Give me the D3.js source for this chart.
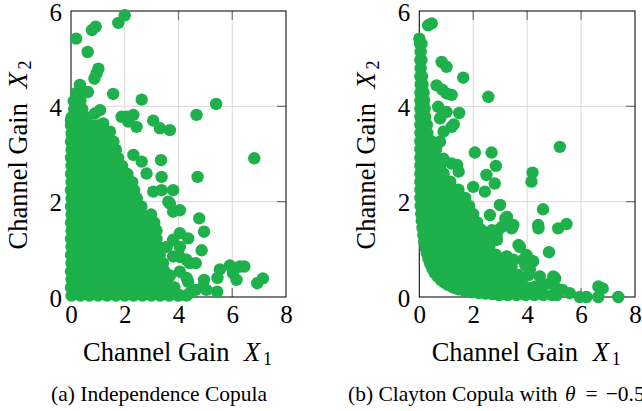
<!DOCTYPE html>
<html>
<head>
<meta charset="utf-8">
<script src="https://cdn.jsdelivr.net/npm/d3@7"></script>
<style>
  html, body { margin: 0; padding: 0; background: #fff; }
  svg { display: block; }
</style>
</head>
<body>
<svg id="fig" width="642" height="411"></svg>
<script>
// ---- axes ----
const xTicks = [0, 2, 4, 6, 8];
const yTicks = [0, 2, 4, 6];
const axisTitleText = "Channel Gain";
const captionA = ["(a) Independence Copula"];
const captionB = ["(b) Clayton Copula with ", "θ", "=", "−0.5"];

// ---- (a) independence copula: dense core, one row of samples per level [X2, [X1 ...]] ----
const indepRows = [
  [0.03, [0.02,0.35,0.68,1.01,1.34,1.67,2.00,2.33,2.66,2.99,3.32,3.65,3.98,4.30]],
  [0.20, [0.00,0.18,0.51,0.84,1.17,1.50,1.83,2.16,2.49,2.82,3.15,3.48,3.85]],
  [0.37, [0.02,0.35,0.68,1.01,1.34,1.67,2.00,2.33,2.66,2.99,3.32,3.60]],
  [0.54, [0.00,0.18,0.51,0.84,1.17,1.50,1.83,2.16,2.49,2.82,3.15,3.48]],
  [0.71, [0.02,0.35,0.68,1.01,1.34,1.67,2.00,2.33,2.66,2.99,3.32,3.42]],
  [0.88, [0.00,0.18,0.51,0.84,1.17,1.50,1.83,2.16,2.49,2.82,3.15,3.30]],
  [1.05, [0.02,0.35,0.68,1.01,1.34,1.67,2.00,2.33,2.66,2.99,3.28]],
  [1.22, [0.00,0.18,0.51,0.84,1.17,1.50,1.83,2.16,2.49,2.82,3.18]],
  [1.39, [0.02,0.35,0.68,1.01,1.34,1.67,2.00,2.33,2.66,2.99,3.18]],
  [1.56, [0.00,0.18,0.51,0.84,1.17,1.50,1.83,2.16,2.49,2.82,3.10]],
  [1.73, [0.02,0.35,0.68,1.01,1.34,1.67,2.00,2.33,2.66,2.98]],
  [1.90, [0.00,0.18,0.51,0.84,1.17,1.50,1.83,2.16,2.49,2.62]],
  [2.07, [0.02,0.35,0.68,1.01,1.34,1.67,2.00,2.33,2.45]],
  [2.24, [0.00,0.18,0.51,0.84,1.17,1.50,1.83,2.16,2.35]],
  [2.41, [0.02,0.35,0.68,1.01,1.34,1.67,2.00,2.28]],
  [2.58, [0.00,0.18,0.51,0.84,1.17,1.50,1.83,2.10]],
  [2.75, [0.02,0.35,0.68,1.01,1.34,1.67,1.90]],
  [2.92, [0.00,0.18,0.51,0.84,1.17,1.50,1.75]],
  [3.09, [0.02,0.35,0.68,1.01,1.34,1.67]],
  [3.26, [0.00,0.18,0.51,0.84,1.17,1.50,1.58]],
  [3.43, [0.02,0.35,0.68,1.01,1.34]],
  [3.60, [0.00,0.18,0.51,0.84,1.00]],
  [3.77, [0.02,0.30,0.58]],
  [3.94, [0.12,0.42]],
  [4.11, [0.10,0.35]],
  [4.28, [0.20,0.48]],
  [4.45, [0.33]]
];

// ---- (a) sparse samples [X1, X2] ----
const indepScatter = [
  [0.19,5.42],[0.78,5.60],[0.92,5.67],[0.62,5.14],[1.76,5.75],[2.00,5.91],
  [1.02,4.79],[0.95,4.69],[0.87,4.58],[0.52,4.30],[0.63,4.30],[1.57,4.26],[2.63,4.14],
  [1.08,3.92],[0.89,3.85],[5.40,4.05],[4.67,3.82],[1.88,3.78],[2.07,3.78],
  [2.32,3.82],[2.13,3.68],[2.44,3.57],[3.06,3.70],[3.31,3.54],[3.68,3.50],
  [1.20,3.64],[1.45,3.47],[0.00,3.71],[6.82,2.91],[3.35,2.87],[4.71,2.52],
  [2.32,2.98],[2.63,2.84],[2.81,2.59],[3.37,2.52],[3.80,2.24],[3.06,2.21],
  [3.37,2.24],[3.62,2.00],[3.68,1.96],[4.05,1.82],[3.80,1.79],[4.77,1.65],
  [4.95,1.37],[4.05,1.34],[4.36,1.23],[3.80,1.20],[3.56,1.05],[4.05,1.05],
  [4.86,0.98],[4.64,0.71],[4.42,0.71],[4.30,0.78],[3.80,0.85],[4.05,0.84],
  [4.05,0.53],[5.54,0.58],[5.91,0.66],[6.28,0.64],[6.45,0.64],[5.45,0.40],
  [6.03,0.50],[6.16,0.36],[6.93,0.29],[7.14,0.39],[4.95,0.36],[4.92,0.22],
  [5.04,0.15],[5.44,0.11],[4.64,0.15],[4.42,0.08],[4.36,0.32],[4.30,0.40],
  [3.68,0.45],[4.05,0.04]
];

// ---- (b) Clayton copula: dense core [X2, [X1 ...]] ----
const claytonRows = [
  [0.04, [2.95,3.28,3.61,3.94,4.27,4.60,4.93,5.10]],
  [0.21, [1.30,1.63,1.96,2.29,2.62,2.95,3.28,3.61,3.94,4.27,4.40]],
  [0.38, [0.86,1.19,1.52,1.85,2.18,2.51,2.84,3.17,3.50,3.75]],
  [0.55, [0.62,0.95,1.28,1.61,1.94,2.27,2.60,2.93,3.28]],
  [0.72, [0.48,0.81,1.14,1.47,1.80,2.13,2.46,2.79,3.05]],
  [0.89, [0.38,0.71,1.04,1.37,1.70,2.03,2.36,2.69,2.80]],
  [1.06, [0.30,0.63,0.96,1.29,1.62,1.95,2.28,2.60]],
  [1.23, [0.25,0.58,0.91,1.24,1.57,1.90,2.23,2.45]],
  [1.40, [0.20,0.53,0.86,1.19,1.52,1.85,2.18,2.30]],
  [1.57, [0.16,0.49,0.82,1.15,1.48,1.81,2.14]],
  [1.74, [0.12,0.46,0.79,1.12,1.45,1.78,2.00]],
  [1.91, [0.05,0.30,0.63,0.96,1.29,1.62,1.85]],
  [2.08, [0.04,0.20,0.53,0.86,1.19,1.52,1.70]],
  [2.25, [0.04,0.30,0.63,0.96,1.29,1.45]],
  [2.42, [0.04,0.20,0.53,0.86,1.15]],
  [2.59, [0.04,0.30,0.63,0.90]],
  [2.76, [0.04,0.20,0.53,0.78]],
  [2.93, [0.04,0.30,0.62]],
  [3.10, [0.04,0.30,0.62]],
  [3.27, [0.04,0.22,0.45]],
  [3.44, [0.04,0.30]],
  [3.61, [0.04,0.28]],
  [3.78, [0.04,0.22]],
  [3.95, [0.04,0.20]],
  [4.12, [0.04,0.18]],
  [4.29, [0.04,0.16]],
  [4.46, [0.05,0.12]],
  [4.63, [0.04,0.10]],
  [4.80, [0.05]],
  [4.97, [0.04,0.08]],
  [5.14, [0.05]],
  [5.31, [0.03,0.08]]
];

// ---- (b) samples along the lower edge of the support [X1, X2] ----
const claytonEdge = [
  [0.07,1.75],[0.09,1.60],[0.12,1.45],[0.15,1.30],[0.19,1.15],[0.23,1.03],
  [0.28,0.92],[0.34,0.80],[0.41,0.69],[0.49,0.59],[0.58,0.50],[0.68,0.43],
  [0.80,0.36],[0.93,0.30],[1.08,0.25],[1.25,0.20],[1.45,0.16],[1.68,0.13],
  [1.95,0.10],[2.20,0.08],[2.45,0.07],[2.70,0.06],[3.00,0.05]
];

// ---- (b) sparse samples [X1, X2] ----
const claytonScatter = [
  [0.33,5.70],[0.46,5.74],[0.00,5.42],
  [0.83,4.93],[1.01,4.83],[1.63,4.60],[2.56,4.20],[0.64,4.44],[0.85,4.35],
  [1.01,4.27],[1.20,4.24],[0.70,3.99],[1.01,3.88],[1.48,3.86],[0.77,3.75],
  [1.20,3.57],[1.28,3.62],[0.90,3.47],[0.77,3.26],[0.64,3.22],[2.06,3.03],
  [2.68,3.03],[2.84,2.75],[0.90,2.90],[1.20,2.80],[1.40,2.77],[1.46,2.63],
  [2.49,2.56],[2.80,2.38],[2.00,2.31],[2.43,2.21],[2.99,1.93],[2.62,1.72],
  [3.25,1.68],[3.49,1.51],[3.19,1.65],[2.49,1.34],[2.92,1.40],[2.86,1.26],
  [2.32,1.40],[2.69,1.40],[3.06,1.47],[3.43,1.44],[2.88,1.20],[3.68,1.09],
  [3.73,1.05],[2.85,0.88],[3.31,0.81],[3.24,0.85],[3.42,0.64],[3.49,0.78],
  [3.85,0.78],[3.98,0.88],[4.16,0.74],[4.22,0.75],[4.10,0.57],[3.93,0.67],
  [4.05,0.46],[3.68,0.46],[4.47,0.43],[5.21,3.15],[4.20,2.61],[4.16,2.42],
  [4.59,1.84],[4.41,1.51],[5.15,1.44],[5.46,1.53],[4.42,1.44],[4.81,0.94],
  [4.97,0.43],[5.04,0.39],[4.85,0.29],[4.60,0.22],[5.09,0.18],[5.30,0.15],
  [5.58,0.08],[5.95,0.00],[6.20,0.00],[6.64,0.00],[6.64,0.22],[6.80,0.18],
  [7.38,0.00]
];

// ---- drawing ----
const SERIF = "'Liberation Serif', 'Times New Roman', Times, serif";
const GREEN = "#1db04b";
const DOT_R = 6.2;
const PLOT_TOP = 11, PLOT_BOTTOM = 297;

const svg = d3.select("#fig");
svg.append("rect").attr("width", 642).attr("height", 411).attr("fill", "#fff");

function flattenRows(rows) {
  return rows.flatMap(([yv, xs]) => xs.map(xv => [xv, yv]));
}

const panels = [
  { left: 71, right: 286, points: flattenRows(indepRows).concat(indepScatter),
    yTitleX: 27, captionX: 51, caption: captionA },
  { left: 419.3, right: 635, points: flattenRows(claytonRows).concat(claytonEdge, claytonScatter),
    yTitleX: 375, captionX: 348, caption: captionB }
];

function axisTitle(g, tx, ty, rot, sub) {
  const t = g.append("text")
    .attr("transform", `translate(${tx},${ty}) rotate(${rot})`)
    .attr("font-family", SERIF)
    .attr("font-size", 26.5)
    .attr("fill", "#000");
  t.append("tspan").attr("x", -95.5).text(axisTitleText);
  t.append("tspan").attr("x", 65.5).attr("font-style", "italic").text("X");
  t.append("tspan").attr("x", 84.5).attr("dy", 4).attr("font-size", 18).text(sub);
}

panels.forEach(p => {
  const x = d3.scaleLinear().domain([0, 8]).range([p.left, p.right]);
  const y = d3.scaleLinear().domain([0, 6]).range([PLOT_BOTTOM, PLOT_TOP]);
  const g = svg.append("g");
  const innerX = xTicks.filter(v => v > 0 && v < 8);
  const innerY = yTicks.filter(v => v > 0 && v < 6);

  // grid
  g.append("g").selectAll("line").data(innerX).join("line")
    .attr("x1", d => x(d)).attr("x2", d => x(d))
    .attr("y1", PLOT_TOP).attr("y2", PLOT_BOTTOM)
    .attr("stroke", "#d9d9d9").attr("stroke-width", 1);
  g.append("g").selectAll("line").data(innerY).join("line")
    .attr("y1", d => y(d)).attr("y2", d => y(d))
    .attr("x1", p.left).attr("x2", p.right)
    .attr("stroke", "#d9d9d9").attr("stroke-width", 1);

  // inward tick marks on all four sides
  const tk = g.append("g").attr("stroke", "#7a7a7a").attr("stroke-width", 1.3);
  innerX.forEach(v => {
    tk.append("line").attr("x1", x(v)).attr("x2", x(v)).attr("y1", PLOT_BOTTOM).attr("y2", PLOT_BOTTOM - 9);
    tk.append("line").attr("x1", x(v)).attr("x2", x(v)).attr("y1", PLOT_TOP).attr("y2", PLOT_TOP + 9);
  });
  innerY.forEach(v => {
    tk.append("line").attr("y1", y(v)).attr("y2", y(v)).attr("x1", p.left).attr("x2", p.left + 9);
    tk.append("line").attr("y1", y(v)).attr("y2", y(v)).attr("x1", p.right).attr("x2", p.right - 9);
  });

  // frame
  g.append("rect")
    .attr("x", p.left).attr("y", PLOT_TOP)
    .attr("width", p.right - p.left).attr("height", PLOT_BOTTOM - PLOT_TOP)
    .attr("fill", "none").attr("stroke", "#111").attr("stroke-width", 1.1);

  // tick labels
  const ax = g.append("g").attr("transform", `translate(0,${PLOT_BOTTOM})`)
    .call(d3.axisBottom(x).tickValues(xTicks).tickSize(0).tickPadding(8.25).tickFormat(d3.format("d")));
  const ay = g.append("g").attr("transform", `translate(${p.left},0)`)
    .call(d3.axisLeft(y).tickValues(yTicks).tickSize(0).tickPadding(9).tickFormat(d3.format("d")));
  ay.selectAll("text").attr("dy", "0.36em");
  [ax, ay].forEach(a => {
    a.select(".domain").remove();
    a.attr("font-family", SERIF).attr("font-size", 25);
    a.selectAll("text").attr("fill", "#000");
  });

  // samples
  g.append("g").selectAll("circle").data(p.points).join("circle")
    .attr("cx", d => x(d[0])).attr("cy", d => y(d[1]))
    .attr("r", DOT_R).attr("fill", GREEN);

  // axis titles
  axisTitle(g, (p.left + p.right) / 2, 361, 0, "1");
  axisTitle(g, p.yTitleX, (PLOT_TOP + PLOT_BOTTOM) / 2, -90, "2");

  // caption (math parts get wider spacing, as in typeset formulas)
  const c = g.append("text").attr("x", p.captionX).attr("y", 400.5)
    .attr("font-family", SERIF).attr("font-size", 21.5).attr("fill", "#000");
  p.caption.forEach((part, i) => {
    const s = c.append("tspan").text(part);
    if (part === "θ") s.attr("font-style", "italic").attr("dx", 2);
    if (part === "=") s.attr("dx", 10);
    if (part === "−0.5") s.attr("dx", 8);
  });
});
</script>
</body>
</html>
